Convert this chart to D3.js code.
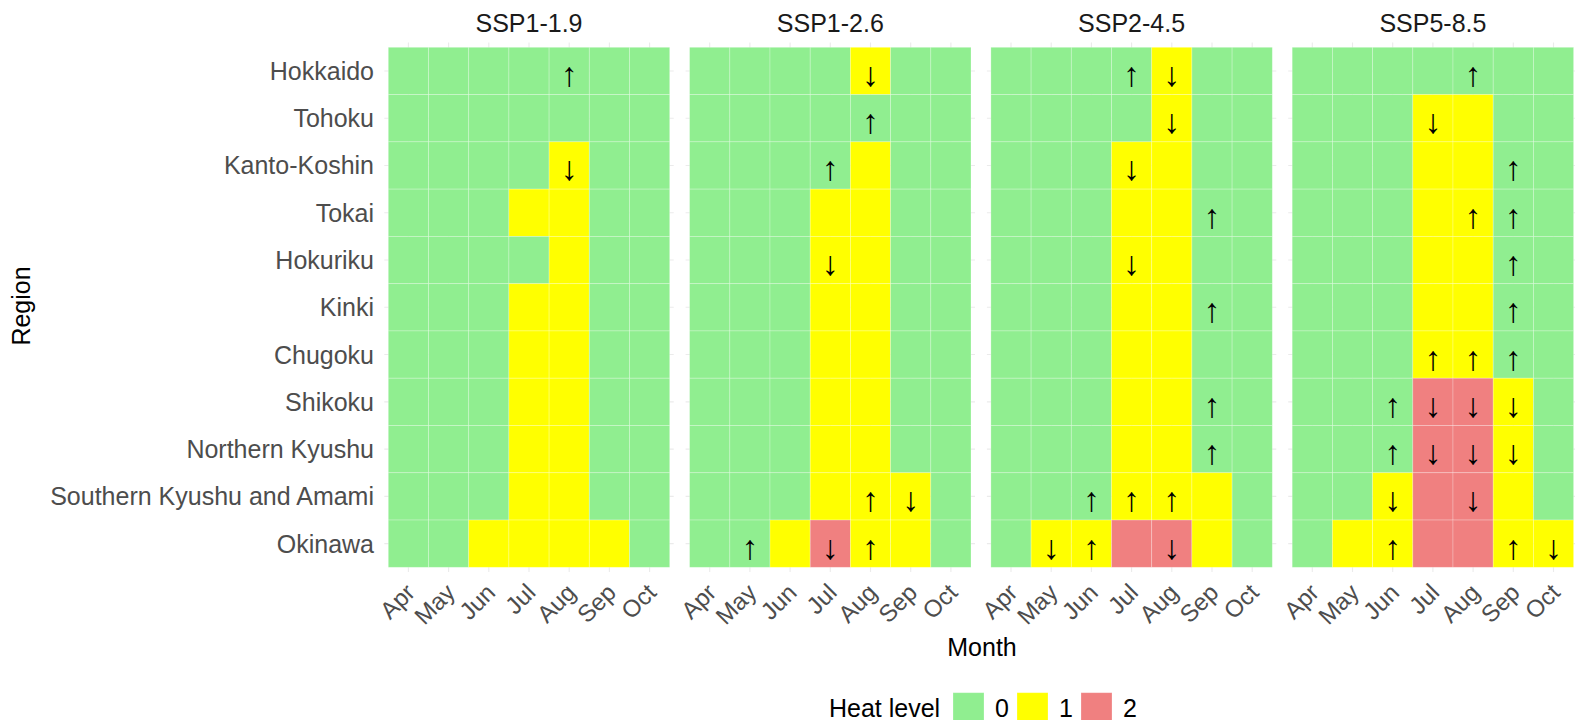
<!DOCTYPE html>
<html>
<head>
<meta charset="utf-8">
<script src="https://cdn.jsdelivr.net/npm/d3@7"></script>
<style>
  html, body { margin: 0; padding: 0; background: #fff; }
  svg { display: block; font-family: "Liberation Sans", Arial, Helvetica, sans-serif; }
</style>
</head>
<body>
<svg id="chart" width="1575" height="720"></svg>
<script>
// ---------------- DATA ----------------
const scenarios = ["SSP1-1.9", "SSP1-2.6", "SSP2-4.5", "SSP5-8.5"];
const months = ["Apr", "May", "Jun", "Jul", "Aug", "Sep", "Oct"];
const regions = ["Hokkaido", "Tohoku", "Kanto-Koshin", "Tokai", "Hokuriku", "Kinki",
  "Chugoku", "Shikoku", "Northern Kyushu", "Southern Kyushu and Amami", "Okinawa"];
const levelValues = [0, 1, 2];
const levelColors = ["#90EE90", "#FFFF00", "#F08080"];

// heat level per region (rows) and month (chars Apr..Oct)
const levelsSSP119 = ["0000000", "0000000", "0000100", "0001100", "0000100", "0001100",
  "0001100", "0001100", "0001100", "0001100", "0011110"];
const levelsSSP126 = ["0000100", "0000000", "0000100", "0001100", "0001100", "0001100",
  "0001100", "0001100", "0001100", "0001110", "0012110"];
const levelsSSP245 = ["0000100", "0000100", "0001100", "0001100", "0001100", "0001100",
  "0001100", "0001100", "0001100", "0001110", "0112210"];
const levelsSSP585 = ["0000000", "0001100", "0001100", "0001100", "0001100", "0001100",
  "0001100", "0002210", "0002210", "0012210", "0112211"];

// trend arrows: u = ↑, d = ↓, . = none
const arrowsSSP119 = ["....u..", ".......", "....d..", ".......", ".......", ".......",
  ".......", ".......", ".......", ".......", "......."];
const arrowsSSP126 = ["....d..", "....u..", "...u...", ".......", "...d...", ".......",
  ".......", ".......", ".......", "....ud.", ".u.du.."];
const arrowsSSP245 = ["...ud..", "....d..", "...d...", ".....u.", "...d...", ".....u.",
  ".......", ".....u.", ".....u.", "..uuu..", ".du.d.."];
const arrowsSSP585 = ["....u..", "...d...", ".....u.", "....uu.", ".....u.", ".....u.",
  "...uuu.", "..uddd.", "..uddd.", "..d.d..", "..u..ud"];

const levelTable = [levelsSSP119, levelsSSP126, levelsSSP245, levelsSSP585];
const arrowTable = [arrowsSSP119, arrowsSSP126, arrowsSSP245, arrowsSSP585];
const arrowGlyph = { u: "\u2191", d: "\u2193" };

// ---------------- LAYOUT ----------------
const svg = d3.select("#chart");
const tileLeft0 = 388.3, panelStep = 301.3, tileW = 281.4;
const tileTop = 47.3, tileBottom = 567.3;
const expX = 4.0, expY = 4.7;

const color = d3.scaleOrdinal().domain(levelValues).range(levelColors);
const y = d3.scaleBand().domain(regions).range([tileTop, tileBottom]);
const facetX = d3.scaleBand().domain(scenarios)
  .range([tileLeft0, tileLeft0 + panelStep * 4]);

const cells = [];
scenarios.forEach((s, si) => {
  regions.forEach((r, ri) => {
    months.forEach((m, mi) => {
      cells.push({ s, r, m, level: +levelTable[si][ri][mi], arrow: arrowTable[si][ri][mi] });
    });
  });
});

scenarios.forEach((s, si) => {
  const left = facetX(s);
  const x = d3.scaleBand().domain(months).range([left, left + tileW]);
  const g = svg.append("g").attr("class", "panel");
  const pL = left - expX, pR = left + tileW + expX, pT = tileTop - expY, pB = tileBottom + expY;

  // grid lines
  g.selectAll("line.vg").data(months).join("line")
    .attr("x1", d => x(d) + x.bandwidth() / 2).attr("x2", d => x(d) + x.bandwidth() / 2)
    .attr("y1", pT).attr("y2", pB)
    .attr("stroke", "#EBEBEB").attr("stroke-width", 1.1);
  g.selectAll("line.hg").data(regions).join("line")
    .attr("y1", d => y(d) + y.bandwidth() / 2).attr("y2", d => y(d) + y.bandwidth() / 2)
    .attr("x1", pL).attr("x2", Math.min(pR, 1575))
    .attr("stroke", "#EBEBEB").attr("stroke-width", 1.1);

  const data = cells.filter(c => c.s === s);
  g.selectAll("rect.tile").data(data).join("rect")
    .attr("x", d => x(d.m)).attr("y", d => y(d.r))
    .attr("width", x.bandwidth()).attr("height", y.bandwidth())
    .attr("fill", d => color(d.level))
    .attr("stroke", "rgba(255,255,255,0.3)").attr("stroke-width", 0.8);

  g.selectAll("text.arrow").data(data.filter(d => d.arrow !== ".")).join("text")
    .attr("x", d => x(d.m) + x.bandwidth() / 2)
    .attr("y", d => y(d.r) + y.bandwidth() / 2 + 3)
    .attr("text-anchor", "middle").attr("dominant-baseline", "central")
    .attr("font-size", 34).attr("fill", "#000")
    .text(d => arrowGlyph[d.arrow]);

  // strip title
  svg.append("text").attr("x", left + tileW / 2).attr("y", 31.7)
    .attr("text-anchor", "middle").attr("font-size", 25).attr("fill", "#1A1A1A")
    .text(s);

  // x tick labels
  months.forEach(m => {
    const cx = x(m) + x.bandwidth() / 2;
    svg.append("text")
      .attr("transform", `translate(${cx + 8},${594}) rotate(-45)`)
      .attr("text-anchor", "end").attr("font-size", 24).attr("fill", "#4D4D4D")
      .text(m);
  });
});

// y tick labels
svg.selectAll("text.ylab").data(regions).join("text")
  .attr("x", 374).attr("y", d => y(d) + y.bandwidth() / 2 + 9)
  .attr("text-anchor", "end").attr("font-size", 25).attr("fill", "#4D4D4D")
  .text(d => d);

// axis titles
svg.append("text").attr("x", 982).attr("y", 656)
  .attr("text-anchor", "middle").attr("font-size", 25).attr("fill", "#000").text("Month");
svg.append("text").attr("transform", "translate(30,306) rotate(-90)")
  .attr("text-anchor", "middle").attr("font-size", 25).attr("fill", "#000").text("Region");

// legend
const leg = svg.append("g");
leg.append("text").attr("x", 829).attr("y", 716.5).attr("font-size", 25).attr("fill", "#000").text("Heat level");
const keyX = d3.scalePoint().domain(levelValues).range([953, 1081]);
leg.selectAll("rect").data(levelValues).join("rect")
  .attr("x", d => keyX(d)).attr("y", 692.7).attr("width", 31).attr("height", 31)
  .attr("fill", d => color(d)).attr("stroke", "rgba(255,255,255,0.3)").attr("stroke-width", 0.8);
leg.selectAll("text.lv").data(levelValues).join("text")
  .attr("x", d => keyX(d) + 42).attr("y", 716.5)
  .attr("font-size", 25).attr("fill", "#000").text(d => d);
</script>
</body>
</html>
